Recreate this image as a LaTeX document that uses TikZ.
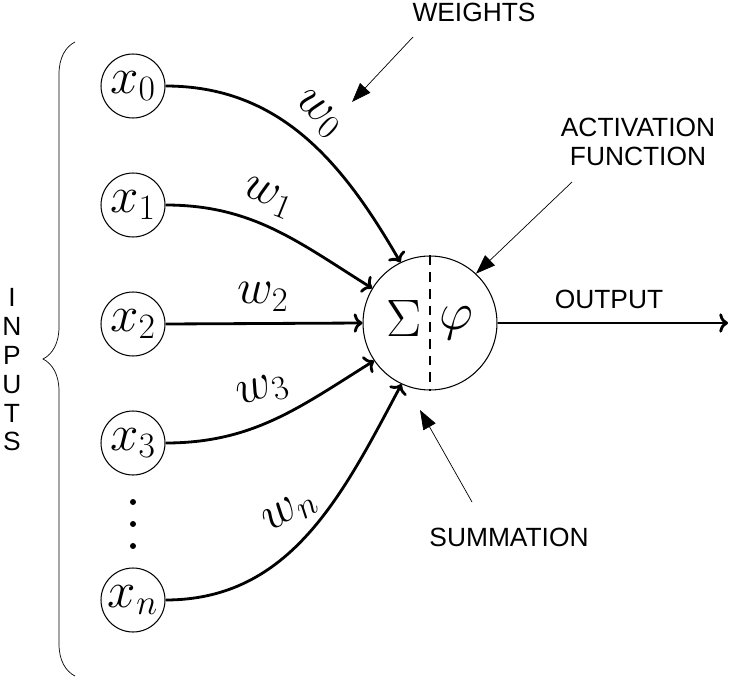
\RequirePackage{fix-cm}
\documentclass[tikz,border=0pt]{standalone}
\usepackage{amsmath}
\usepackage{amssymb}
\usepackage[no-math]{fontspec}
\setmainfont{Liberation Sans}
\usepackage{tikz}
\usetikzlibrary{arrows.meta, decorations.pathreplacing}

\begin{document}
\begin{tikzpicture}[x=0.02cm, y=-0.02cm,
        input/.style={circle, draw, semithick, inner sep=0pt, minimum size=1.28cm, font=\fontsize{29}{34}\selectfont},
        weight/.style={line width=1.6pt, -{To[length=5pt, width=11pt]}},
        wlabel/.style={font=\fontsize{28}{34}\selectfont, inner sep=0pt},
        note/.style={font=\fontsize{15}{16.4}\selectfont, align=center, inner sep=0pt},
        pointer/.style={thin, -{Triangle[length=11pt, width=8pt]}}]
        \useasboundingbox (0, 0) rectangle (730, 679);
        % Inputs
        \node [input] (x0) at (133, 86) {$x_0$};
        \node [input] (x1) at (133, 205) {$x_1$};
        \node [input] (x2) at (133, 324) {$x_2$};
        \node [input] (x3) at (133, 443) {$x_3$};
        \node [input] (xn) at (133, 600) {$x_n$};
        % Dots
        \foreach \y [count=\i] in {502, 524, 546}
            \node (dot\i) at (133, \y) [circle, fill, inner sep=1.2pt]{};
        % Neuron
        \node [circle, draw, semithick, inner sep=0pt, minimum size=2.68cm] (neuron) at (430, 323) {};
        \draw [semithick, dash pattern=on 5.5pt off 4pt] (neuron.north) -- (neuron.south);
        \node [font=\fontsize{30}{36}\selectfont] (sigma) at (404, 318) {$\Sigma$};
        \node [font=\fontsize{30}{36}\selectfont] (phi) at (456, 323) {$\varphi$};
        % Weighted connections
        \draw [weight] (x0.east) to [out=0, in=120] (neuron.116);
        \draw [weight] (x1.east) to [out=0, in=148] (neuron.149);
        \draw [weight] (x2.east) -- (neuron.west);
        \draw [weight] (x3.east) to [out=0, in=212] (neuron.214);
        \draw [weight] (xn.east) to [out=0, in=242] (neuron.245);
        % Weights
        \node [wlabel, rotate=-42] (w0) at (318, 114) {$w_0$};
        \node [wlabel, rotate=-22] (w1) at (268, 198) {$w_1$};
        \node [wlabel] (w2) at (263, 297) {$w_2$};
        \node [wlabel, rotate=18] (w3) at (263, 391) {$w_3$};
        \node [wlabel, rotate=32] (wn) at (290, 512) {$w_n$};
        % Output
        \coordinate (out) at (728, 323);
        \draw [weight] (neuron.east) -- (out);
        \node [note] (output) at (609, 299) {OUTPUT};
        % Annotations
        \node [note] (weights) at (474, 12) {WEIGHTS};
        \coordinate (wfrom) at (413, 37);
        \coordinate (wto) at (352, 102);
        \draw [pointer] (wfrom) -- (wto);
        \node [note] (activation) at (638, 142) {ACTIVATION\\FUNCTION};
        \coordinate (afrom) at (572, 182);
        \draw [pointer] (afrom) -- (neuron.47);
        \node [note] (summation) at (509, 537) {SUMMATION};
        \coordinate (sfrom) at (472, 502);
        \coordinate (sto) at (420, 410);
        \draw [pointer] (sfrom) -- (sto);
        % Inputs brace
        \draw [thin, decorate, decoration={brace, amplitude=0.64cm}] (75, 676) -- (75, 42);
        \node [note] (inputs) at (12, 370) {I\\N\\P\\U\\T\\S};
    \end{tikzpicture}
\end{document}
